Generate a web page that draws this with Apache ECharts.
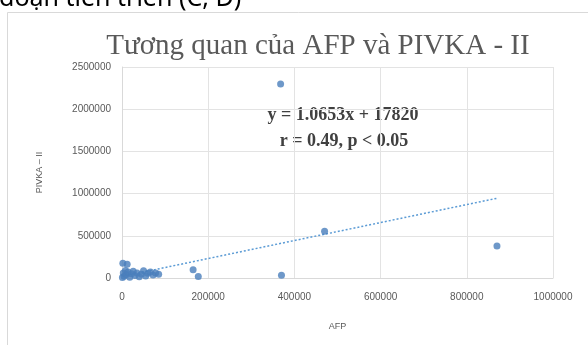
<!DOCTYPE html>
<html>
<head>
<meta charset="utf-8">
<script src="https://cdn.jsdelivr.net/npm/echarts@6/dist/echarts.min.js"></script>
<style>
  html, body { margin: 0; padding: 0; background: #fff; }
  #chart { width: 588px; height: 345px; }
</style>
</head>
<body>
<div id="chart"></div>
<script>
// AFP (x) vs PIVKA-II (y) measurements
const afp = [1000, 3000, 5000, 8000, 10000, 14000, 18000, 22000, 26000, 30000,
             35000, 40000, 45000, 50000, 55000, 60000, 66000, 72000, 78000, 85000,
             2000, 12000, 165000, 177000, 368000, 370000, 470000, 870000];
const pivka = [5000, 60000, 20000, 90000, 40000, 70000, 10000, 50000, 80000, 30000,
               60000, 15000, 45000, 85000, 25000, 55000, 70000, 35000, 60000, 45000,
               175000, 162000, 98000, 18000, 2300000, 32000, 555000, 378000];

// Linear fit reported on the chart
const slope = 1.0653;
const intercept = 17820;
const eqLines = ['y = 1.0653x + 17820', 'r = 0.49, p < 0.05'];

const xTicks = [0, 200000, 400000, 600000, 800000, 1000000];
const yTicks = [0, 500000, 1000000, 1500000, 2000000, 2500000];

const points = afp.map((x, i) => [x, pivka[i]]);
const xMin = Math.min(...afp), xMax = Math.max(...afp);
const fitLine = [[xMin, slope * xMin + intercept], [xMax, slope * xMax + intercept]];

const chart = echarts.init(document.getElementById('chart'), null, { renderer: 'canvas' });
const grey = '#595959';
const plain = v => String(v);

chart.setOption({
  animation: false,
  backgroundColor: '#fff',
  title: {
    text: 'Tương quan của AFP và PIVKA - II',
    left: 313, top: 27, textAlign: 'center',
    textStyle: { fontFamily: 'Liberation Serif', fontSize: 29, fontWeight: 'normal', color: grey }
  },
  grid: { left: 122, right: 35, top: 67, bottom: 67, containLabel: false },
  xAxis: {
    type: 'value', min: xTicks[0], max: xTicks[xTicks.length - 1], interval: xTicks[1] - xTicks[0],
    name: 'AFP', nameLocation: 'middle', nameGap: 44,
    nameTextStyle: { fontFamily: 'Liberation Sans', fontSize: 9, color: grey },
    axisLine: { show: true, lineStyle: { color: '#D9D9D9' } },
    axisTick: { show: false },
    axisLabel: { fontFamily: 'Liberation Sans', fontSize: 10, color: grey, margin: 14, formatter: plain },
    splitLine: { show: true, lineStyle: { color: '#E3E3E3' } }
  },
  yAxis: {
    type: 'value', min: yTicks[0], max: yTicks[yTicks.length - 1], interval: yTicks[1] - yTicks[0],
    name: 'PIVKA – II', nameLocation: 'middle', nameGap: 78, nameRotate: 90,
    nameTextStyle: { fontFamily: 'Liberation Sans', fontSize: 9, color: grey },
    axisLine: { show: true, lineStyle: { color: '#D9D9D9' } },
    axisTick: { show: false },
    axisLabel: { fontFamily: 'Liberation Sans', fontSize: 10, color: grey, margin: 11, formatter: plain },
    splitLine: { show: true, lineStyle: { color: '#E3E3E3' } }
  },
  series: [
    {
      type: 'line', data: fitLine, symbol: 'none', silent: true,
      lineStyle: { color: '#5B9BD5', width: 1.5, type: [2, 2] }, z: 2
    },
    {
      type: 'scatter', data: points, symbol: 'circle', symbolSize: 7,
      itemStyle: { color: '#4A7EBB' }, z: 3
    }
  ],
  graphic: [
    {
      type: 'rect', shape: { x: 7.5, y: 12.5, width: 600, height: 360 },
      style: { fill: 'none', stroke: '#D9D9D9', lineWidth: 1 }, z: -1
    },
    {
      type: 'text', left: -1, top: -14,
      style: { text: 'đoạn tiến triển (C, D)', font: '25px "Noto Sans"', fill: '#000' }
    },
    {
      type: 'text', x: 343, y: 115,
      style: { text: eqLines[0], font: 'bold 18px "Liberation Serif"', fill: '#404040', textAlign: 'center', textVerticalAlign: 'middle' }
    },
    {
      type: 'text', x: 344, y: 141,
      style: { text: eqLines[1], font: 'bold 18px "Liberation Serif"', fill: '#404040', textAlign: 'center', textVerticalAlign: 'middle' }
    }
  ]
});
</script>
</body>
</html>
